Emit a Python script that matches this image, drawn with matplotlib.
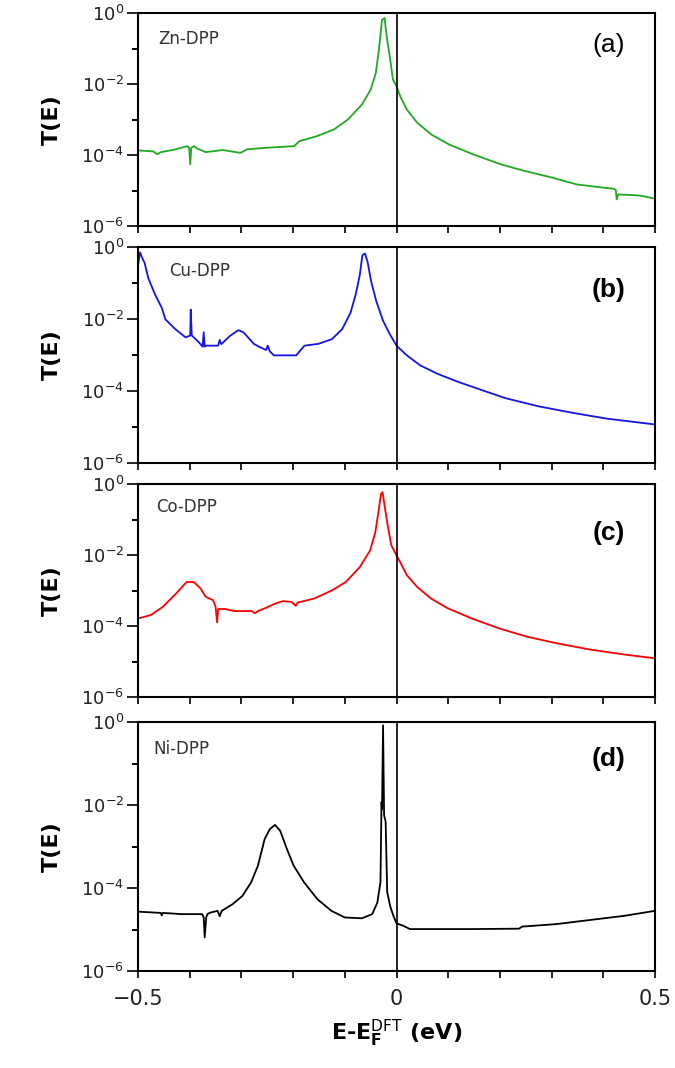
"""Transmission spectra T(E) for four metal-DPP junctions, stacked panels."""
import matplotlib
matplotlib.use("Agg")
import matplotlib.pyplot as plt
from matplotlib.ticker import FixedLocator, NullFormatter, LogFormatterSciNotation
import numpy as np

# ---- data (E in eV, log10 T) ----
e_zn = [-0.500, -0.470, -0.463, -0.456, -0.430, -0.412, -0.405, -0.401, -0.399, -0.397,
        -0.392, -0.385, -0.369, -0.336, -0.302, -0.289, -0.255, -0.198, -0.188, -0.154,
        -0.121, -0.094, -0.067, -0.050, -0.040, -0.034, -0.028, -0.023, -0.019, -0.013,
        -0.007, 0.000, 0.007, 0.020, 0.040, 0.067, 0.101, 0.148, 0.201, 0.248,
        0.302, 0.349, 0.400, 0.420, 0.424, 0.426, 0.429, 0.470, 0.500]
logt_zn = [-3.87, -3.90, -3.98, -3.92, -3.85, -3.78, -3.75, -3.80, -4.26, -3.80,
           -3.75, -3.82, -3.92, -3.86, -3.94, -3.84, -3.80, -3.75, -3.61, -3.47,
           -3.28, -3.00, -2.58, -2.16, -1.69, -1.03, -0.19, -0.14, -0.66, -1.22,
           -1.87, -2.06, -2.34, -2.72, -3.09, -3.42, -3.70, -3.98, -4.26, -4.45,
           -4.64, -4.83, -4.92, -4.95, -4.98, -5.25, -5.11, -5.14, -5.23]

e_cu = [-0.500, -0.496, -0.492, -0.487, -0.480, -0.467, -0.454, -0.447, -0.428, -0.408,
        -0.399, -0.398, -0.396, -0.382, -0.375, -0.373, -0.371, -0.368, -0.345, -0.342,
        -0.339, -0.322, -0.306, -0.296, -0.276, -0.263, -0.252, -0.249, -0.245, -0.237,
        -0.194, -0.178, -0.151, -0.125, -0.105, -0.089, -0.079, -0.071, -0.066, -0.061,
        -0.056, -0.049, -0.039, -0.026, -0.013, 0.000, 0.020, 0.046, 0.079, 0.118,
        0.164, 0.211, 0.276, 0.342, 0.408, 0.500]
logt_cu = [-0.50, -0.15, -0.30, -0.45, -0.87, -1.32, -1.69, -2.01, -2.28, -2.51,
           -2.46, -1.74, -2.46, -2.65, -2.77, -2.37, -2.77, -2.74, -2.74, -2.58,
           -2.70, -2.47, -2.31, -2.37, -2.69, -2.79, -2.86, -2.74, -2.90, -3.01,
           -3.01, -2.74, -2.69, -2.56, -2.28, -1.83, -1.32, -0.78, -0.23, -0.18,
           -0.41, -0.96, -1.51, -2.05, -2.42, -2.74, -3.01, -3.29, -3.52, -3.74,
           -3.97, -4.20, -4.43, -4.61, -4.77, -4.93]

e_co = [-0.500, -0.475, -0.452, -0.426, -0.406, -0.392, -0.379, -0.369, -0.355, -0.350,
        -0.347, -0.345, -0.333, -0.313, -0.280, -0.274, -0.268, -0.253, -0.233, -0.220,
        -0.203, -0.195, -0.191, -0.158, -0.124, -0.098, -0.071, -0.051, -0.041, -0.035,
        -0.030, -0.027, -0.023, -0.017, -0.010, 0.000, 0.007, 0.020, 0.040, 0.066,
        0.099, 0.146, 0.199, 0.252, 0.311, 0.377, 0.444, 0.500]
logt_co = [-3.79, -3.69, -3.46, -3.08, -2.76, -2.76, -2.94, -3.18, -3.27, -3.45,
           -3.90, -3.52, -3.52, -3.58, -3.58, -3.64, -3.58, -3.49, -3.36, -3.30,
           -3.32, -3.43, -3.34, -3.22, -2.99, -2.76, -2.34, -1.87, -1.36, -0.79,
           -0.28, -0.23, -0.61, -1.17, -1.73, -2.01, -2.20, -2.57, -2.90, -3.22,
           -3.50, -3.79, -4.07, -4.30, -4.49, -4.67, -4.81, -4.91]

e_ni = [-0.500, -0.456, -0.454, -0.452, -0.415, -0.376, -0.373, -0.371, -0.368, -0.365,
        -0.359, -0.346, -0.342, -0.338, -0.317, -0.298, -0.281, -0.268, -0.255, -0.245,
        -0.235, -0.225, -0.212, -0.199, -0.179, -0.153, -0.126, -0.100, -0.067, -0.047,
        -0.037, -0.031, -0.029, -0.028, -0.026, -0.024, -0.021, -0.018, -0.012, -0.006,
        0.000, 0.013, 0.026, 0.079, 0.145, 0.237, 0.243, 0.309, 0.375, 0.441, 0.500]
logt_ni = [-4.57, -4.60, -4.66, -4.60, -4.63, -4.63, -4.70, -5.19, -4.70, -4.62,
           -4.59, -4.55, -4.68, -4.55, -4.39, -4.19, -3.86, -3.46, -2.82, -2.58,
           -2.48, -2.62, -3.06, -3.46, -3.86, -4.27, -4.55, -4.71, -4.73, -4.63,
           -4.35, -3.86, -1.93, -2.10, -0.08, -2.25, -2.40, -4.10, -4.45, -4.67,
           -4.85, -4.91, -4.99, -4.99, -4.99, -4.98, -4.93, -4.87, -4.77, -4.67, -4.55]

names = ["Zn-DPP", "Cu-DPP", "Co-DPP", "Ni-DPP"]
tags = ["(a)", "(b)", "(c)", "(d)"]
colors = ["#1faa1f", "#1414e6", "#ff0000", "#000000"]
series = [(e_zn, logt_zn), (e_cu, logt_cu), (e_co, logt_co), (e_ni, logt_ni)]

W, H = 675, 1068
left, right = 138, 655
panels_px = [(13, 226), (247, 463), (484, 697), (722, 971)]
name_pos = [(0.04, 0.88), (0.06, 0.89), (0.035, 0.89), (0.03, 0.89)]
tag_pos = [(0.91, 0.85), (0.91, 0.80), (0.91, 0.77), (0.91, 0.85)]
tag_weight = ["normal", "bold", "bold", "bold"]

fig = plt.figure(figsize=(W / 100, H / 100), dpi=100)
ink = "#222222"

for i, ((top, bot), (e, lt)) in enumerate(zip(panels_px, series)):
    ax = fig.add_axes([left / W, 1 - bot / H, (right - left) / W, (bot - top) / H])
    ax.plot(e, 10.0 ** np.array(lt), color=colors[i], lw=1.3)
    ax.axvline(0, color="black", lw=1.2)
    ax.set_yscale("log")
    ax.set_ylim(1e-6, 1)
    ax.set_xlim(-0.5, 0.5)

    ax.yaxis.set_major_locator(FixedLocator([1e-6, 1e-4, 1e-2, 1]))
    ax.yaxis.set_minor_locator(FixedLocator([1e-5, 1e-3, 1e-1]))
    ax.yaxis.set_major_formatter(LogFormatterSciNotation())
    ax.yaxis.set_minor_formatter(NullFormatter())
    ax.set_xticks(np.round(np.arange(-0.5, 0.51, 0.1), 1))
    if i == 3:
        ax.set_xticklabels(["\u22120.5", "", "", "", "", "0", "", "", "", "", "0.5"])
        ax.set_xlabel(r"E-E$_\mathbf{F}^{\mathrm{DFT}}$ (eV)", fontsize=16,
                      fontweight="bold", labelpad=6)
    else:
        ax.set_xticklabels([])

    ax.tick_params(axis="y", which="major", direction="out", length=8, width=1.4,
                   labelsize=13, colors=ink, pad=2)
    ax.tick_params(axis="y", which="minor", direction="out", length=4, width=1.4)
    ax.tick_params(axis="x", which="major", direction="out", length=5, width=1.4,
                   labelsize=15, colors=ink, pad=8)
    for sp in ax.spines.values():
        sp.set_linewidth(1.5)
    ax.set_ylabel("T(E)", fontsize=16, fontweight="bold", labelpad=14)

    ax.text(*name_pos[i], names[i], transform=ax.transAxes, fontsize=12,
            color="#333333", ha="left", va="center")
    ax.text(*tag_pos[i], tags[i], transform=ax.transAxes, fontsize=19,
            family="Liberation Sans", fontweight=tag_weight[i],
            ha="center", va="center")

fig.savefig("out.png", dpi=100)
plt.close(fig)
